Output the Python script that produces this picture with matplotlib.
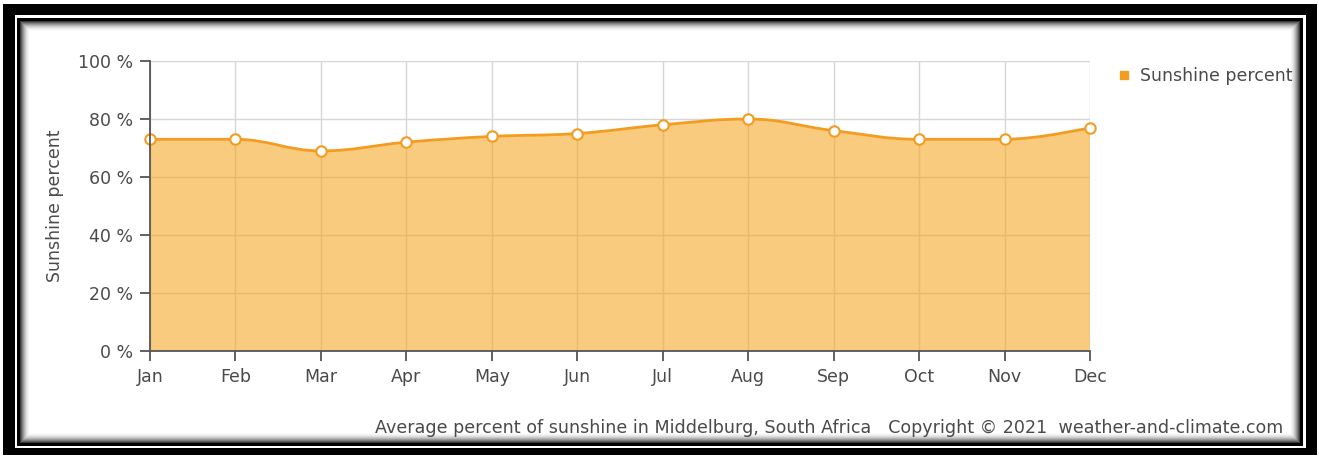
import matplotlib
matplotlib.use('Agg')
import matplotlib.pyplot as plt
from matplotlib.path import Path
from matplotlib.patches import PathPatch, Rectangle
from matplotlib.lines import Line2D

# ── Data ──────────────────────────────────────────────────────────────────────
months = ['Jan', 'Feb', 'Mar', 'Apr', 'May', 'Jun',
          'Jul', 'Aug', 'Sep', 'Oct', 'Nov', 'Dec']
sunshine = [73, 73, 69, 72, 74, 75, 78, 80, 76, 73, 73, 77]
y_ticks = [0, 20, 40, 60, 80, 100]

ORANGE = '#F39C21'
FILL = '#F5A623'
GRID = '#D6D6D6'
AXIS = '#555555'
TEXT = '#4A4A4A'

W, H = 1319, 457


def spline_path(xs, ys):
    """Bezier path through the points, same smoothing idea as an areaspline."""
    n = len(xs)
    left, right = [None] * n, [None] * n
    for i in range(1, n - 1):
        x, y = xs[i], ys[i]
        lx, ly = xs[i - 1], ys[i - 1]
        nx, ny = xs[i + 1], ys[i + 1]
        lcx, lcy = (1.5 * x + lx) / 2.5, (1.5 * y + ly) / 2.5
        rcx, rcy = (1.5 * x + nx) / 2.5, (1.5 * y + ny) / 2.5
        corr = (rcy - lcy) * (rcx - x) / (rcx - lcx) + y - rcy
        lcy += corr
        rcy += corr
        if lcy > ly and lcy > y:
            lcy = max(ly, y); rcy = 2 * y - lcy
        elif lcy < ly and lcy < y:
            lcy = min(ly, y); rcy = 2 * y - lcy
        if rcy > ny and rcy > y:
            rcy = max(ny, y); lcy = 2 * y - rcy
        elif rcy < ny and rcy < y:
            rcy = min(ny, y); lcy = 2 * y - rcy
        left[i], right[i] = (lcx, lcy), (rcx, rcy)
    verts, codes = [(xs[0], ys[0])], [Path.MOVETO]
    for i in range(1, n):
        c1 = right[i - 1] if right[i - 1] else (xs[i - 1], ys[i - 1])
        c2 = left[i] if left[i] else (xs[i], ys[i])
        verts += [c1, c2, (xs[i], ys[i])]
        codes += [Path.CURVE4] * 3
    return verts, codes


fig = plt.figure(figsize=(W / 100, H / 100), dpi=100)
fig.patch.set_facecolor('white')

# ── Frame (pixel coordinates) ─────────────────────────────────────────────────
bg = fig.add_axes([0, 0, 1, 1])
bg.set_xlim(0, W)
bg.set_ylim(H, 0)
bg.axis('off')

bg.add_patch(Rectangle((3, 4), 1314, 451, color='black', lw=0))
bg.add_patch(Rectangle((15, 15), 1291, 433, color='white', lw=0))
bg.add_patch(Rectangle((17, 18), 1286, 428, color='black', lw=0))
shades = ['#3a3a3a', '#5e5e5e', '#7e7e7e', '#9a9a9a', '#b4b4b4',
          '#cacaca', '#dcdcdc', '#eaeaea', '#f4f4f4', '#fbfbfb']
for k, c in enumerate(shades):
    bg.add_patch(Rectangle((20 + k, 21 + k), 1280 - 2 * k, 422 - 2 * k,
                           color=c, lw=0))
bg.add_patch(Rectangle((30, 31), 1260, 402, color='white', lw=0))

bg.text(1283, 428,
        'Average percent of sunshine in Middelburg, South Africa   '
        'Copyright \u00a9 2021  weather-and-climate.com',
        ha='right', va='center', fontsize=12.6, color=TEXT)

# ── Chart ─────────────────────────────────────────────────────────────────────
ax = fig.add_axes([150 / W, (H - 351) / H, 940 / W, 290 / H])
ax.set_facecolor('none')
xs = list(range(len(months)))
ax.set_xlim(0, len(months) - 1)
ax.set_ylim(0, 100)

verts, codes = spline_path(xs, sunshine)
fill_verts = verts + [(xs[-1], 0), (xs[0], 0), verts[0]]
fill_codes = codes + [Path.LINETO, Path.LINETO, Path.CLOSEPOLY]
ax.add_patch(PathPatch(Path(fill_verts, fill_codes), facecolor=FILL,
                       edgecolor='none', alpha=0.58, zorder=2))
ax.add_patch(PathPatch(Path(verts, codes), facecolor='none',
                       edgecolor=ORANGE, lw=2, zorder=3))
ax.plot(xs, sunshine, ls='none', marker='o', markersize=7.5,
        markerfacecolor='white', markeredgecolor=ORANGE,
        markeredgewidth=1.5, zorder=4, clip_on=False)

ax.set_xticks(xs)
ax.set_xticklabels(months)
ax.set_yticks(y_ticks)
ax.set_yticklabels([f'{v} %' for v in y_ticks])
ax.grid(True, color=GRID, lw=1, zorder=1)
ax.set_axisbelow(True)
for s in ['top', 'right']:
    ax.spines[s].set_visible(False)
for s in ['left', 'bottom']:
    ax.spines[s].set_color(AXIS)
    ax.spines[s].set_linewidth(1.3)
    ax.spines[s].set_zorder(5)
ax.tick_params(axis='both', length=7, width=1.3, color=AXIS,
               labelsize=12.5, labelcolor=TEXT, pad=5)
ax.set_ylabel('Sunshine percent', fontsize=12.5, color=TEXT, labelpad=10)

handle = Line2D([], [], ls='none', marker='s', markersize=6,
                color=ORANGE)
fig.legend([handle], ['Sunshine percent'], loc='upper left',
           bbox_to_anchor=(1110 / W, 1 - 60 / H), frameon=False,
           fontsize=12.5, labelcolor=TEXT, handlelength=0.8,
           handletextpad=0.5, borderaxespad=0)

plt.savefig('out.png', dpi=100, facecolor='white')
